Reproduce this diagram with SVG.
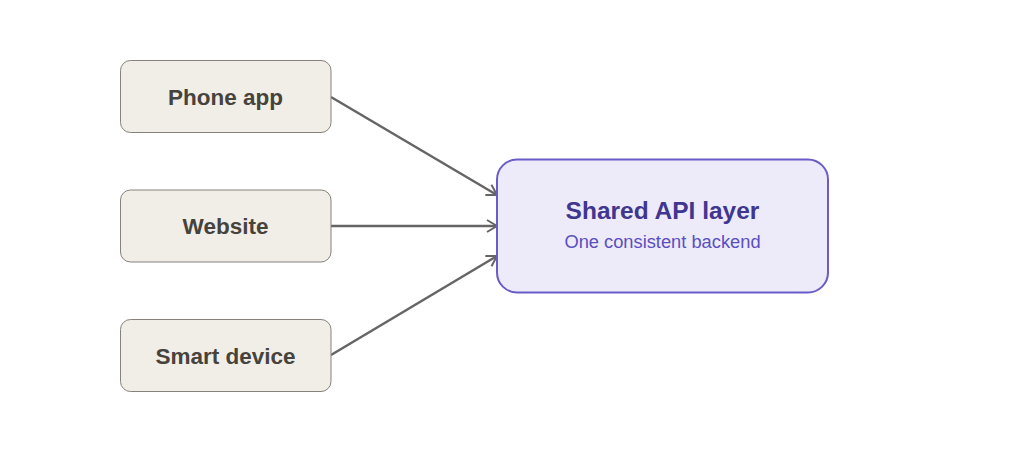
<svg xmlns="http://www.w3.org/2000/svg" width="1024" height="452" viewBox="0 0 1024 452">
<style>
.src rect{fill:#f1eee7;stroke:#86827b;stroke-width:1}
.src text{font-family:"Liberation Sans",Arial,sans-serif;font-weight:bold;font-size:22.5px;fill:#46433d;text-anchor:middle}
.edge{stroke:#666464;stroke-width:2.5;fill:none;marker-end:url(#arr)}
.t1{font-family:"Liberation Sans",Arial,sans-serif;font-weight:bold;font-size:24.5px;fill:#40368f;text-anchor:middle}
.t2{font-family:"Liberation Sans",Arial,sans-serif;font-size:18.3px;fill:#5a4fbf;text-anchor:middle}
</style>
<defs>
<marker id="arr" markerWidth="14" markerHeight="14" refX="11" refY="7" orient="auto" markerUnits="userSpaceOnUse">
<path d="M1,1 L11,7 L1,13" fill="none" stroke="#666464" stroke-width="2"/>
</marker>
</defs>
<rect width="1024" height="452" fill="#ffffff"/>
<g id="connectors">
<line class="edge" x1="331" y1="97" x2="497" y2="195"/>
<line class="edge" x1="331" y1="226" x2="497" y2="226"/>
<line class="edge" x1="331" y1="355" x2="497" y2="256"/>
</g>
<g id="phone" class="src">
<rect x="120.5" y="60.5" width="210.5" height="72" rx="10"/>
<text x="225.5" y="104.5">Phone app</text>
</g>
<g id="website" class="src">
<rect x="120.5" y="190" width="210.5" height="72" rx="10"/>
<text x="225.5" y="234">Website</text>
</g>
<g id="device" class="src">
<rect x="120.5" y="319.5" width="210.5" height="72" rx="10"/>
<text x="225.5" y="363.5">Smart device</text>
</g>
<g id="api">
<rect x="497" y="159.5" width="331" height="133" rx="20" fill="#edebfa" stroke="#6a5cc7" stroke-width="2"/>
<text class="t1" x="662.5" y="219">Shared API layer</text>
<text class="t2" x="662.5" y="247.5">One consistent backend</text>
</g>
</svg>
